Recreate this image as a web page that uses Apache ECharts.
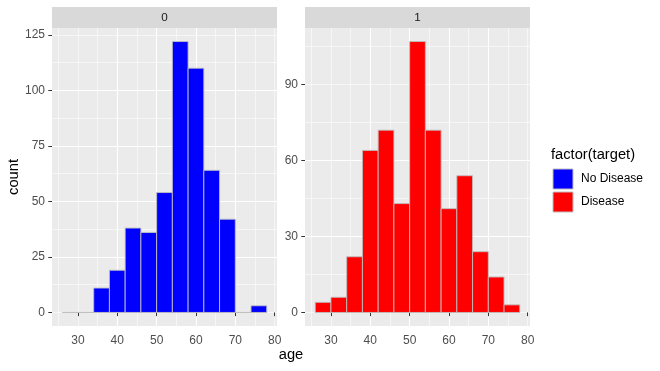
<!DOCTYPE html>
<html><head><meta charset="utf-8">
<script src="https://cdn.jsdelivr.net/npm/echarts@6/dist/echarts.min.js"></script>
<style>html,body{margin:0;padding:0;background:#fff}#c{width:660px;height:371px}</style>
</head><body><div id="c"></div>
<script>
const binStarts = [26,30,34,38,42,46,50,54,58,62,66,70,74];
const binWidth = 4;
const noDiseaseCounts = [0,0,11,19,38,36,54,122,110,64,42,0,3];
const diseaseCounts = [4,6,22,64,72,43,107,72,41,54,24,14,3];
const xTicks = [30,40,50,60,70,80];
const yTicksLeft = [0,25,50,75,100,125];
const yTicksRight = [0,30,60,90];
const panelLabels = ['0','1'];
const legendLabels = ['No Disease','Disease'];
const legendTitle = 'factor(target)';
const xTitle = 'age';
const yTitle = 'count';

const FONT = '"Liberation Sans", Arial, sans-serif';
const colors = ['#0000FF','#FF0000'];
const counts = [noDiseaseCounts, diseaseCounts];
const yTicks = [yTicksLeft, yTicksRight];

const xLo = binStarts[0], xHi = binStarts[binStarts.length-1] + binWidth;
const xPad = (xHi - xLo) * 0.05;
const xMin = xLo - xPad, xMax = xHi + xPad;

const grids = [
  {left: 52, top: 28, width: 225, height: 298},
  {left: 305, top: 28, width: 225, height: 298}
];

const xAxes = [], yAxes = [], series = [], graphics = [];
grids.forEach((g, i) => {
  const maxC = Math.max(...counts[i]);
  const yPad = maxC * 0.05;
  const yMin = -yPad, yMax = maxC + yPad;
  const yStep = yTicks[i][1] - yTicks[i][0];
  const xStep = xTicks[1] - xTicks[0];
  // major x
  xAxes.push({
    type: 'value', gridIndex: i, min: xMin, max: xMax,
    minInterval: xStep, maxInterval: xStep, splitNumber: 6,
    axisLine: {show: false},
    axisTick: {show: true, length: 3.7, customValues: xTicks, lineStyle: {color: '#333333', width: 1}},
    axisLabel: {customValues: xTicks, margin: 8.5, color: '#4D4D4D', fontSize: 12, fontFamily: FONT},
    splitLine: {show: true, showMinLine: false, showMaxLine: false, lineStyle: {color: '#FFFFFF', width: 1.1}}
  });
  // minor x
  xAxes.push({
    type: 'value', gridIndex: i, min: xMin, max: xMax,
    minInterval: xStep/2, maxInterval: xStep/2, splitNumber: 12,
    axisLine: {show: false}, axisTick: {show: false}, axisLabel: {show: false},
    splitLine: {show: true, showMinLine: false, showMaxLine: false, lineStyle: {color: '#FFFFFF', width: 0.55}}
  });
  yAxes.push({
    type: 'value', gridIndex: i, min: yMin, max: yMax,
    minInterval: yStep, maxInterval: yStep, splitNumber: 5,
    axisLine: {show: false},
    axisTick: {show: true, length: 3.7, customValues: yTicks[i], lineStyle: {color: '#333333', width: 1}},
    axisLabel: {customValues: yTicks[i], margin: 7, color: '#4D4D4D', fontSize: 12, fontFamily: FONT},
    splitLine: {show: true, showMinLine: false, showMaxLine: false, lineStyle: {color: '#FFFFFF', width: 1.1}},
    name: i === 0 ? yTitle : '', nameLocation: 'middle', nameGap: 30, nameRotate: 90,
    nameTextStyle: {color: '#000000', fontSize: 14.7, fontFamily: FONT}
  });
  yAxes.push({
    type: 'value', gridIndex: i, min: yMin, max: yMax,
    minInterval: yStep/2, maxInterval: yStep/2, splitNumber: 10,
    axisLine: {show: false}, axisTick: {show: false}, axisLabel: {show: false},
    splitLine: {show: true, showMinLine: false, showMaxLine: false, lineStyle: {color: '#FFFFFF', width: 0.55}}
  });
  const fill = colors[i];
  series.push({
    type: 'custom', name: legendLabels[i],
    xAxisIndex: 2*i, yAxisIndex: 2*i,
    itemStyle: {color: fill},
    encode: {x: [0, 1], y: 2},
    data: binStarts.map((s, k) => [s, s + binWidth, counts[i][k]]),
    renderItem: function (params, api) {
      const p0 = api.coord([api.value(0), api.value(2)]);
      const p1 = api.coord([api.value(1), 0]);
      return {
        type: 'rect',
        shape: {x: p0[0], y: p0[1], width: p1[0] - p0[0], height: p1[1] - p0[1]},
        style: {fill: fill, stroke: '#BEBEBE', lineWidth: 0.9}
      };
    }
  });
  graphics.push({
    type: 'rect', left: g.left, top: 7, z: 10,
    shape: {width: g.width, height: 21},
    style: {fill: '#D9D9D9'}
  });
  graphics.push({
    type: 'text', x: g.left + g.width/2, y: 17.7, z: 11,
    style: {text: panelLabels[i], fill: '#1A1A1A', font: '11.7px ' + FONT, align: 'center', verticalAlign: 'middle'}
  });
});

graphics.push({
  type: 'text', x: 291, y: 355,
  style: {text: xTitle, fill: '#000000', font: '14.7px ' + FONT, align: 'center', verticalAlign: 'middle'}
});
graphics.push({
  type: 'text', x: 551, y: 155,
  style: {text: legendTitle, fill: '#000000', font: '14.7px ' + FONT, align: 'left', verticalAlign: 'middle'}
});

const chart = echarts.init(document.getElementById('c'), null, {renderer: 'canvas'});
chart.setOption({
  animation: false,
  backgroundColor: '#FFFFFF',
  grid: grids.map(g => Object.assign({show: true, backgroundColor: '#EBEBEB', borderWidth: 0}, g)),
  xAxis: xAxes,
  yAxis: yAxes,
  legend: {
    data: legendLabels, orient: 'vertical', left: 552.5, top: 168.5, padding: 0,
    itemWidth: 20, itemHeight: 20, itemGap: 2, icon: 'rect',
    itemStyle: {borderColor: '#BEBEBE', borderWidth: 1},
    textStyle: {color: '#000000', fontSize: 12, fontFamily: FONT, padding: [0, 0, 0, 3]},
    selectedMode: false
  },
  series: series,
  graphic: graphics
});
</script>
</body></html>
